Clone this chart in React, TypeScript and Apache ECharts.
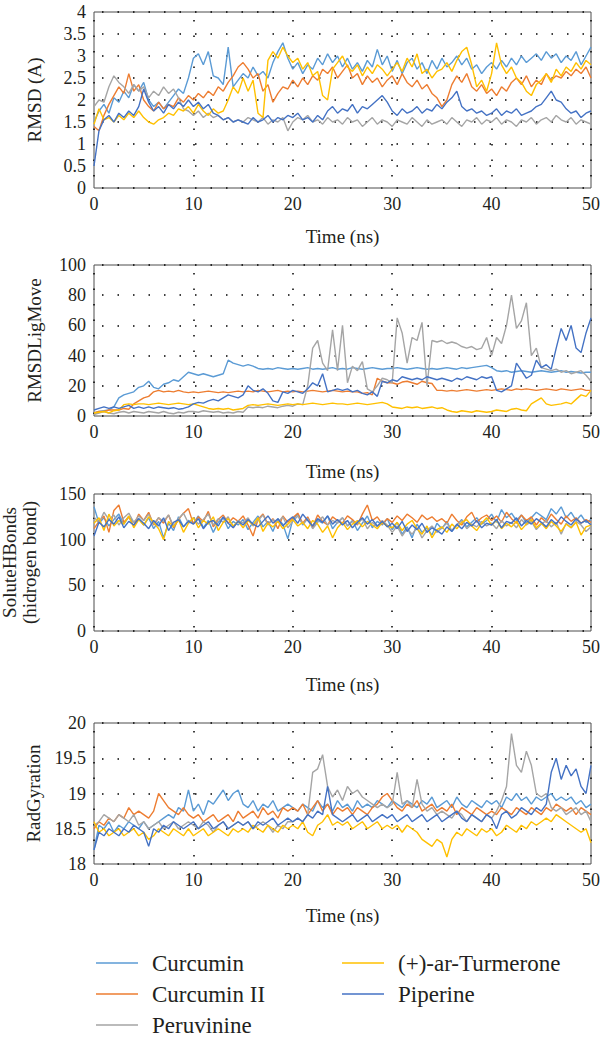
import React, { useEffect, useRef } from "react";
import * as echarts from "echarts";

const TIME = [
  0, 0.5, 1, 1.5, 2, 2.5, 3, 3.5, 4, 4.5,
  5, 5.5, 6, 6.5, 7, 7.5, 8, 8.5, 9, 9.5,
  10, 10.5, 11, 11.5, 12, 12.5, 13, 13.5, 14, 14.5,
  15, 15.5, 16, 16.5, 17, 17.5, 18, 18.5, 19, 19.5,
  20, 20.5, 21, 21.5, 22, 22.5, 23, 23.5, 24, 24.5,
  25, 25.5, 26, 26.5, 27, 27.5, 28, 28.5, 29, 29.5,
  30, 30.5, 31, 31.5, 32, 32.5, 33, 33.5, 34, 34.5,
  35, 35.5, 36, 36.5, 37, 37.5, 38, 38.5, 39, 39.5,
  40, 40.5, 41, 41.5, 42, 42.5, 43, 43.5, 44, 44.5,
  45, 45.5, 46, 46.5, 47, 47.5, 48, 48.5, 49, 49.5,
  50,
];

const SERIES_NAMES = ["Curcumin", "Curcumin II", "Peruvinine", "(+)-ar-Turmerone", "Piperine"];
const COLORS = ["#5b9bd5", "#ed7d31", "#a5a5a5", "#ffc000", "#4472c4"];

// Panel 1: RMSD (A)
const RMSD_CURCUMIN = [
  1.5, 1.75, 1.9, 1.7, 2.05, 1.95, 2.2, 2.05, 2.35, 2.2,
  2.4, 2.0, 1.85, 1.95, 1.8, 1.95, 2.1, 2.25, 2.15, 2.5,
  2.95, 3.05, 2.8, 3.1, 2.55, 2.5, 2.35, 3.2, 2.3, 2.45,
  2.6, 2.5, 2.75, 2.55, 2.65, 2.5, 2.85, 3.1, 3.3, 2.95,
  2.7, 2.85, 2.6, 2.8, 2.7, 2.95, 2.8, 3.05, 2.85, 3.0,
  2.75, 2.95, 2.7, 2.85, 2.65, 2.9, 2.75, 3.15, 2.8, 3.0,
  2.65, 2.9, 2.6, 2.85, 2.95, 2.7, 2.85, 2.6, 2.9, 2.7,
  2.95, 2.75, 2.85, 3.0, 2.8, 2.95, 2.7, 2.8, 2.6, 2.75,
  2.85, 2.7, 2.9, 2.75, 2.95, 2.8, 3.0, 2.85, 2.95, 3.05,
  2.9, 3.1, 2.95, 3.05, 2.85, 3.0, 2.9, 3.1, 2.8, 3.0,
  3.2,
];
const RMSD_CURCUMIN2 = [
  1.4, 1.3, 1.65, 1.9, 2.1, 2.3, 2.15, 2.6, 2.2, 2.35,
  2.0, 1.85, 1.75, 1.95, 1.8, 1.9, 1.85, 2.05, 1.95, 2.1,
  2.0, 2.15, 2.05, 2.2, 2.1, 2.3, 2.2, 2.4, 2.55, 2.75,
  2.85, 2.7, 2.5, 2.6, 2.2, 2.35, 1.95, 2.15, 2.3, 2.25,
  2.45, 2.3, 2.5, 2.35, 2.55, 2.45, 2.7, 2.6, 2.75, 2.5,
  2.65, 2.8, 2.5, 2.6, 2.35, 2.55, 2.4, 2.5, 2.3, 2.45,
  2.55, 2.35, 2.6, 2.4, 2.3, 2.45, 2.25, 2.35, 2.15, 2.05,
  1.85, 2.0, 2.35, 2.55, 2.4, 2.6, 2.3, 2.2, 2.35, 2.15,
  2.25, 2.1, 2.3, 2.2, 2.4, 2.5, 2.35, 2.55, 2.3, 2.45,
  2.35, 2.6, 2.45, 2.55, 2.5, 2.65, 2.55, 2.7, 2.6, 2.75,
  2.5,
];
const RMSD_PERUVININE = [
  1.85, 2.0, 1.95, 2.3, 2.55, 2.4, 2.3, 2.15, 2.35, 2.2,
  2.3, 2.05, 2.2, 2.1, 2.3, 2.15, 2.25, 2.05, 1.8, 1.75,
  1.65, 1.75, 1.6, 1.7, 1.6, 1.65, 1.55, 1.6, 1.5, 1.55,
  1.5, 1.6, 1.55, 1.5, 1.6, 1.45, 1.55, 1.5, 1.6, 1.3,
  1.5, 1.6, 1.55, 1.65, 1.5, 1.55, 1.45, 1.6, 1.5, 1.55,
  1.45, 1.6, 1.5, 1.55, 1.4, 1.5, 1.6, 1.45, 1.55, 1.5,
  1.4, 1.55, 1.5, 1.45, 1.6, 1.5, 1.4, 1.55, 1.45, 1.5,
  1.55, 1.45, 1.6, 1.5, 1.4, 1.55, 1.5, 1.6, 1.45, 1.55,
  1.5, 1.6, 1.45, 1.55, 1.5, 1.4, 1.55, 1.5, 1.6, 1.45,
  1.55, 1.6, 1.5, 1.65, 1.55, 1.5, 1.6, 1.45, 1.55, 1.5,
  1.45,
];
const RMSD_TURMERONE = [
  1.45, 1.8, 1.55, 1.6, 1.5, 1.65, 1.55, 1.7, 1.6, 1.75,
  1.6, 1.5, 1.45, 1.55, 1.6, 1.7, 1.65, 1.8, 1.75, 1.85,
  1.7, 1.9, 1.75, 1.65, 1.8, 1.7, 1.75, 2.0, 2.3, 2.15,
  2.5, 2.2, 2.45, 1.7, 1.6, 2.9, 3.1, 2.95, 3.2, 3.0,
  2.85, 2.95, 2.7, 2.85, 2.55, 2.65, 2.1, 2.0, 2.7, 2.85,
  3.0, 2.75, 2.65, 2.8, 2.55, 2.75, 2.6, 2.8, 2.7, 2.55,
  2.7, 2.85, 2.65, 2.95, 2.75, 3.05, 2.6, 2.7, 2.5, 2.65,
  2.7, 2.85, 2.65, 2.9, 3.1, 3.2, 2.8, 2.3, 2.45, 2.2,
  2.6, 3.3, 2.8, 2.6, 2.75, 2.5, 2.4, 2.2, 2.1, 2.35,
  2.45, 2.6, 2.4, 2.7, 2.55, 2.75, 2.65, 2.85, 2.7, 2.9,
  2.8,
];
const RMSD_PIPERINE = [
  0.5, 1.3, 1.55, 1.65, 1.5, 1.7, 1.6, 1.75, 1.65, 1.85,
  2.25, 1.95, 1.75, 1.85, 1.7, 1.9, 1.8, 1.95, 1.85, 2.0,
  1.85, 1.95, 1.8, 1.9, 1.7, 1.65, 1.55, 1.6, 1.5, 1.55,
  1.5, 1.45, 1.6, 1.5, 1.55, 1.65, 1.5, 1.6, 1.55, 1.65,
  1.6, 1.7, 1.55, 1.6, 1.5, 1.65, 1.55, 1.75, 1.85, 1.7,
  1.8, 1.75, 1.9, 1.7, 1.85, 1.8, 1.9, 2.0, 2.1, 1.95,
  1.75, 1.65, 1.8, 1.7, 1.75, 1.85, 1.7, 1.8, 1.75, 1.9,
  1.8, 1.95, 2.05, 2.2, 1.85, 1.75, 1.8, 1.7, 1.75, 1.65,
  1.7, 1.8, 1.65, 1.75, 1.7, 1.8, 1.65, 1.7, 1.75, 1.85,
  1.9, 2.05, 2.2, 2.0, 1.95, 1.8, 1.7, 1.75, 1.6, 1.7,
  1.75,
];

// Panel 2: RMSDLigMove
const LIG_CURCUMIN = [
  2, 3, 3.5, 4, 6, 12, 14, 15, 16, 19,
  20, 23, 19, 18, 21, 22, 24, 23, 26, 29,
  28, 27, 28, 27, 26, 27, 28, 37, 35, 34,
  33, 34, 33, 31.5, 31, 31.5, 31, 32, 31.5, 31,
  31.5, 31, 31.5, 32, 31, 31.5, 31, 31.5, 32, 31,
  31.5, 31, 32, 31.5, 31, 31.5, 32, 31.5, 31, 31.5,
  31.5, 32, 31.5, 31, 31.5, 32, 31.5, 31, 31.5, 31,
  31.5, 32, 31.5, 31, 32, 31.5, 32, 32.5, 33, 33.5,
  32, 30, 29.5, 30, 29, 29.5, 30, 29.5, 29, 29.5,
  30, 29.5, 29, 29.5, 30, 29, 29.5, 29, 28.5, 29,
  29,
];
const LIG_CURCUMIN2 = [
  2, 3, 3, 4, 4, 4, 5, 4.5, 8, 10,
  12, 13, 16, 17, 16, 16.5, 16, 17, 16, 15.5,
  16, 15.5, 16, 16.5, 16, 15.5, 16, 15.5, 16, 16.5,
  16, 16.5, 16, 17, 16.5, 16, 16.5, 17, 16, 16.5,
  16, 16.5, 16, 16.5, 17, 16.5, 16, 16.5, 17, 16.5,
  16, 16.5, 16, 16, 15, 15.5, 14, 25, 23, 22,
  22, 21, 22.5, 23, 22, 21, 23, 22, 21.5, 17,
  17, 16.5, 17, 16.5, 17, 17.5, 17, 16.5, 17, 17.5,
  17, 17.5, 18, 17.5, 17, 18, 17.5, 18, 17.5, 17,
  17.5, 18, 17.5, 17, 18, 17.5, 17, 17.5, 18, 17,
  17,
];
const LIG_PERUVININE = [
  1, 2, 3, 2, 1.5, 2.5, 3, 2, 3, 2.5,
  2, 3, 2.5, 2, 3, 2, 1.5, 2.5, 2, 3,
  3, 2.5, 3.5, 3, 2.5, 3, 2, 2.5, 2, 3,
  2.5, 6, 5.5, 6, 5.5, 6.5, 6, 5.5, 6.5, 7,
  6.5, 8, 7.5, 20, 45, 50, 35, 30, 57, 30,
  60, 22, 33, 30, 36, 18, 16, 20, 25, 24,
  22, 65, 55, 35, 52, 50, 62, 20, 50, 49,
  50, 48, 49, 48, 46, 45, 46, 44, 45, 52,
  40, 52, 48, 60, 80, 58, 63, 75, 40, 45,
  32, 31, 30, 31, 29, 30, 28, 29, 30, 27,
  23,
];
const LIG_TURMERONE = [
  2, 2.5, 3, 2, 3.5, 4, 7.5, 8, 7.5, 8,
  8, 7.5, 8, 8.5, 8, 7.5, 8, 8.5, 8, 7.5,
  8, 7, 6, 5, 4.5, 5, 4.5, 5, 4, 4.5,
  5, 7, 7.5, 7, 7.5, 8, 7.5, 7, 7.5, 8,
  7.5, 8, 7.5, 8, 8.5, 8, 7.5, 8, 8.5, 8,
  8, 7.5, 8, 8.5, 8, 7.5, 8, 8.5, 9, 8,
  6, 5.5, 5, 6, 5.5, 6, 5, 5.5, 6, 5,
  5.5, 4, 3, 2.5, 3.5, 3, 2.5, 3.5, 3, 2.5,
  3, 4, 3.5, 3, 4.5, 5, 4, 3.5, 8, 10,
  12, 8, 7, 7.5, 8, 9, 8, 11, 14, 13,
  17,
];
const LIG_PIPERINE = [
  4, 5, 6, 5, 6, 5, 6, 7, 5, 6,
  5, 6, 5, 6, 5.5, 5, 5.5, 4.5, 5, 6,
  8, 9, 8.5, 10, 11, 10, 12, 14, 13, 12,
  14, 20, 17, 16, 18, 15, 10, 9, 16, 15,
  17, 16, 15, 18, 22, 20, 28, 16, 17, 18,
  17, 18, 16, 17, 15, 14, 16, 13, 23, 22,
  24, 23, 26, 25, 24, 25, 24, 26, 25, 24,
  25, 24, 23, 25, 24, 26, 25, 24, 26, 25,
  26, 17, 16, 18, 20, 35, 30, 25, 27, 37,
  32, 34, 31, 45, 58, 50, 60, 45, 42, 55,
  65,
];

// Panel 3: SoluteHBonds
const HB_CURCUMIN = [
  136, 118, 124, 115, 122, 128, 117, 125, 119, 123,
  116, 124, 112, 120, 102, 118, 110, 125, 114, 121,
  118, 126, 113, 121, 108, 119, 124, 112, 120, 116,
  122, 111, 119, 126, 114, 120, 109, 123, 117, 101,
  122, 128, 116, 124, 113, 121, 118, 126, 112, 119,
  124, 115, 121, 110, 118, 126, 113, 120, 116, 123,
  111, 119, 106, 114, 102, 117, 108, 113, 105, 118,
  112, 120, 109, 116, 122, 114, 119, 124, 117, 121,
  128, 119, 133, 124, 129, 121, 127, 118, 124, 130,
  126, 122, 134, 128, 136, 124, 130, 121, 127, 119,
  122,
];
const HB_CURCUMIN2 = [
  112, 120, 126, 108, 132, 138, 119, 125, 115, 128,
  121, 130, 116, 124, 118, 127, 113, 122, 129, 134,
  117, 125, 120, 131, 114, 122, 127, 118, 124, 120,
  126, 116, 104, 122, 128, 117, 123, 112, 126, 119,
  124, 129, 118, 125, 114, 127, 120, 116, 125, 121,
  118, 126, 122, 116, 128, 138, 121, 125, 117, 123,
  119, 126, 121, 128, 124, 119, 127, 122, 125, 120,
  123, 118, 128, 121, 116, 125, 130, 119, 124, 127,
  121, 126, 119, 130, 123, 118, 127, 121, 125, 116,
  124, 119, 128, 122, 117, 126, 120, 124, 118, 122,
  119,
];
const HB_PERUVININE = [
  125, 118, 130, 122, 127, 116, 124, 129, 119, 126,
  121, 128, 117, 124, 120, 127, 115, 123, 129, 118,
  124, 117, 122, 128, 116, 123, 119, 125, 113, 121,
  118, 124, 115, 121, 127, 116, 122, 119, 125, 113,
  120, 126, 117, 123, 112, 119, 125, 116, 121, 118,
  124, 115, 120, 117, 123, 112, 119, 114, 121, 116,
  108, 115, 104, 112, 106, 113, 102, 110, 115, 108,
  113, 118, 110, 116, 121, 112, 117, 114, 120, 115,
  118, 112, 121, 115, 119, 113, 122, 116, 120, 111,
  117, 121, 114, 119, 106, 118, 113, 120, 116, 109,
  114,
];
const HB_TURMERONE = [
  118, 124, 110, 128, 115, 121, 117, 126, 113, 122,
  116, 125, 119, 112, 100, 120, 114, 122, 108, 118,
  124, 113, 121, 117, 125, 110, 119, 123, 115, 120,
  113, 121, 116, 124, 109, 118, 114, 120, 112, 117,
  122, 115, 119, 112, 121, 117, 108, 115, 102, 113,
  119, 111, 117, 121, 114, 120, 116, 112, 119, 115,
  113, 119, 110, 117, 121, 112, 106, 115, 102, 111,
  114, 108, 117, 112, 119, 122, 115, 110, 118, 124,
  116, 121, 112, 118, 114, 120, 111, 117, 122, 113,
  118, 112, 120, 115, 109, 117, 113, 119, 105, 114,
  116,
];
const HB_PIPERINE = [
  104, 119, 114, 122, 117, 125, 113, 120, 116, 123,
  118, 112, 121, 115, 124, 110, 119, 122, 114, 120,
  117, 123, 112, 119, 121, 115, 125, 118, 113, 120,
  116, 122, 117, 114, 120, 126, 118, 123, 115, 121,
  125, 118, 128, 121, 115, 123, 119, 126, 117, 122,
  116, 121, 113, 119, 124, 117, 122, 115, 120, 114,
  118, 112, 120, 109, 116, 111, 118, 108, 113, 110,
  106, 114, 109, 117, 112, 119, 115, 121, 113, 118,
  116, 122, 113, 120, 118, 124, 115, 121, 117, 123,
  119, 114, 122, 117, 125, 120, 116, 123, 118, 121,
  116,
];

// Panel 4: RadGyration
const RG_CURCUMIN = [
  18.2, 18.55, 18.5, 18.6, 18.45, 18.55, 18.5, 18.6, 18.55, 18.5,
  18.6, 18.5, 18.55, 18.6, 18.65, 18.7, 18.65, 18.8, 18.75, 19.05,
  18.75, 18.85, 18.7, 18.9, 18.85, 18.95, 19.05, 18.9, 19.0, 19.05,
  18.85, 18.8, 18.9, 18.75, 18.85, 18.8, 18.9, 18.75, 18.8, 18.85,
  18.8, 18.75, 18.85, 18.8, 18.75, 18.9, 18.8, 18.85, 18.75, 18.9,
  18.8, 18.85, 18.75, 18.9, 18.8, 18.85, 18.8, 18.9, 18.85, 18.8,
  18.9, 18.85, 18.8, 18.9, 18.85, 18.8, 18.9, 18.85, 18.95, 18.8,
  18.85, 18.9, 18.8, 18.95, 18.85, 18.8, 18.9, 18.85, 18.8, 18.9,
  18.85, 18.9, 18.8, 18.95, 18.9, 19.0, 18.9, 18.95, 18.85, 18.95,
  18.9, 18.95, 19.0, 18.9, 18.95, 18.9, 18.95, 18.85, 18.9, 18.8,
  18.85,
];
const RG_CURCUMIN2 = [
  18.5, 18.6, 18.55, 18.65, 18.6, 18.7, 18.65, 18.8, 18.7, 18.75,
  18.7, 18.65, 18.75, 19.0, 18.9, 18.8, 18.75, 18.7, 18.8, 18.7,
  18.65, 18.7, 18.6, 18.65, 18.7, 18.6, 18.65, 18.7, 18.6, 18.75,
  18.65, 18.7, 18.75, 18.65, 18.8, 18.7, 18.75, 18.65, 18.8, 18.75,
  18.8, 18.75, 18.85, 18.7, 18.8, 18.9, 18.75, 18.85, 18.7, 18.8,
  18.75, 18.8, 18.7, 18.8, 18.75, 18.7, 18.8, 18.85, 18.95, 19.0,
  18.9, 18.8, 18.75, 18.85, 18.8, 18.9, 18.75, 18.8, 18.85, 18.75,
  18.8, 18.75, 18.85, 18.7, 18.8, 18.75, 18.7, 18.8, 18.75, 18.7,
  18.75, 18.7, 18.8, 18.75, 18.7, 18.8, 18.75, 18.7, 18.8, 18.75,
  18.7, 18.8, 18.75, 18.85, 18.8, 18.75, 18.8, 18.7, 18.8, 18.75,
  18.7,
];
const RG_PERUVININE = [
  18.55, 18.6, 18.7, 18.65, 18.6, 18.7, 18.65, 18.6, 18.7, 18.55,
  18.6, 18.5, 18.55, 18.6, 18.5, 18.55, 18.6, 18.5, 18.55, 18.6,
  18.55, 18.5, 18.6, 18.55, 18.45, 18.55, 18.6, 18.5, 18.55, 18.6,
  18.55, 18.6, 18.5, 18.55, 18.6, 18.55, 18.45, 18.55, 18.5, 18.6,
  18.6, 18.65, 18.6, 18.7, 19.3, 19.35, 19.55, 19.1, 18.95, 19.05,
  18.9, 19.1, 19.0, 19.05, 18.95, 18.9, 18.85, 18.8, 18.85, 18.8,
  18.85, 19.3, 18.85, 18.9, 18.8, 19.2, 18.85, 18.75, 18.8, 18.7,
  18.75, 18.7, 18.65, 18.75, 18.7, 18.6, 18.7, 18.65, 18.6, 18.7,
  18.65, 18.75, 18.9, 19.1, 19.85, 19.4, 19.3, 19.6, 19.4, 19.0,
  18.95, 19.0, 18.8, 18.75, 18.8, 18.7, 18.75, 18.8, 18.7, 18.75,
  18.6,
];
const RG_TURMERONE = [
  18.6, 18.45, 18.5, 18.4, 18.45, 18.5, 18.4, 18.45, 18.5, 18.4,
  18.45, 18.35, 18.4, 18.5, 18.45, 18.4, 18.5, 18.45, 18.4, 18.5,
  18.4, 18.45, 18.5, 18.4, 18.45, 18.5, 18.45, 18.4, 18.5, 18.45,
  18.5, 18.45, 18.55, 18.5, 18.45, 18.55, 18.5, 18.45, 18.55, 18.5,
  18.55, 18.5, 18.6, 18.45, 18.4, 18.55, 18.6, 18.7, 18.55, 18.6,
  18.55, 18.6, 18.5, 18.55, 18.6, 18.5, 18.55, 18.6, 18.5, 18.55,
  18.5, 18.55, 18.45, 18.55, 18.5, 18.45, 18.35, 18.3, 18.25, 18.35,
  18.3, 18.1, 18.35, 18.45, 18.4, 18.5, 18.45, 18.4, 18.5, 18.45,
  18.5, 18.4, 18.45, 18.55, 18.5, 18.45, 18.55, 18.5, 18.6, 18.55,
  18.6, 18.65, 18.6, 18.7, 18.65, 18.6, 18.55, 18.5, 18.45, 18.5,
  18.3,
];
const RG_PIPERINE = [
  18.2, 18.45, 18.4, 18.5, 18.45, 18.4, 18.5, 18.45, 18.55, 18.5,
  18.45, 18.25, 18.5, 18.45, 18.55, 18.5, 18.6, 18.55, 18.5, 18.55,
  18.6, 18.5, 18.55, 18.6, 18.5, 18.55, 18.6, 18.5, 18.55, 18.6,
  18.55, 18.6, 18.5, 18.6, 18.55, 18.6, 18.65, 18.55, 18.6, 18.65,
  18.6, 18.65, 18.6, 18.7, 18.65, 18.75, 18.7, 19.1, 18.7, 18.65,
  18.6, 18.65, 18.7, 18.6, 18.65, 18.7, 18.6, 18.65, 18.7, 18.65,
  18.7, 18.6, 18.65, 18.7, 18.6, 18.65, 18.7, 18.6, 18.65, 18.7,
  18.6, 18.65, 18.7, 18.75, 18.65, 18.6, 18.7, 18.65, 18.6, 18.7,
  18.65, 18.5, 18.7, 18.75, 18.65, 18.7, 18.8, 18.75, 18.7, 18.8,
  18.75, 18.85, 19.3, 19.5, 19.2, 19.4, 19.25, 19.35, 19.1, 19.0,
  19.4,
];

const X_NAME = "Time (ns)";

const PANELS = [
  { yName: "RMSD (A)", min: 0, max: 4, interval: 0.5, data: [RMSD_CURCUMIN, RMSD_CURCUMIN2, RMSD_PERUVININE, RMSD_TURMERONE, RMSD_PIPERINE] },
  { yName: "RMSDLigMove", min: 0, max: 100, interval: 20, data: [LIG_CURCUMIN, LIG_CURCUMIN2, LIG_PERUVININE, LIG_TURMERONE, LIG_PIPERINE] },
  { yName: "SoluteHBonds\n(hidrogen bond)", min: 0, max: 150, interval: 50, data: [HB_CURCUMIN, HB_CURCUMIN2, HB_PERUVININE, HB_TURMERONE, HB_PIPERINE] },
  { yName: "RadGyration", min: 18, max: 20, interval: 0.5, data: [RG_CURCUMIN, RG_CURCUMIN2, RG_PERUVININE, RG_TURMERONE, RG_PIPERINE] },
];

const GRID_POS = [
  { top: 12, height: 176, yGap: 50, xGap: 39 },
  { top: 265, height: 151, yGap: 50, xGap: 46 },
  { top: 494, height: 137, yGap: 55, xGap: 44 },
  { top: 723, height: 141, yGap: 50, xGap: 42 },
];

const LEGEND_POS = [
  { x: 96, y: 963 },
  { x: 96, y: 994 },
  { x: 96, y: 1025 },
  { x: 342, y: 963 },
  { x: 342, y: 994 },
];

const FONT = "Liberation Serif";
const TEXT_COLOR = "#231f20";

export default function App() {
  const ref = useRef<HTMLDivElement>(null);
  useEffect(() => {
    if (!ref.current) return;
    const chart = echarts.init(ref.current, undefined, { renderer: "svg" });
    const dotted = { color: "#000", width: 1.5, type: [1.5, 14] as any, dashOffset: -8 };
    const grid = GRID_POS.map((g) => ({
      left: 94,
      right: 9,
      top: g.top,
      height: g.height,
      show: true,
      borderColor: "#4d4d4d",
      borderWidth: 1,
      backgroundColor: "transparent",
      containLabel: false,
      outerBoundsMode: "none",
    }));
    const xAxis = PANELS.map((_, i) => ({
      type: "value",
      gridIndex: i,
      min: 0,
      max: 50,
      interval: 10,
      name: X_NAME,
      nameLocation: "middle",
      nameGap: GRID_POS[i].xGap,
      nameTextStyle: { fontFamily: FONT, fontSize: 19, color: TEXT_COLOR },
      axisLine: { show: false },
      axisTick: { show: false },
      axisLabel: { fontFamily: FONT, fontSize: 18, color: TEXT_COLOR, margin: 7 },
      splitLine: { show: true, lineStyle: dotted },
    }));
    const yAxis = PANELS.map((p, i) => ({
      type: "value",
      gridIndex: i,
      min: p.min,
      max: p.max,
      interval: p.interval,
      name: p.yName,
      nameLocation: "middle",
      nameGap: GRID_POS[i].yGap,
      nameRotate: 90,
      nameTextStyle: { fontFamily: FONT, fontSize: 19, color: TEXT_COLOR, lineHeight: 20 },
      axisLine: { show: false },
      axisTick: { show: false },
      axisLabel: { fontFamily: FONT, fontSize: 18, color: TEXT_COLOR, margin: 8 },
      splitLine: { show: true, lineStyle: dotted },
    }));
    const series: any[] = [];
    PANELS.forEach((p, i) => {
      p.data.forEach((vals, k) => {
        series.push({
          type: "line",
          name: SERIES_NAMES[k],
          xAxisIndex: i,
          yAxisIndex: i,
          showSymbol: false,
          symbol: "none",
          color: COLORS[k],
          lineStyle: { width: 1.4, color: COLORS[k] },
          data: vals.map((v, j) => [TIME[j], v]),
        });
      });
    });
    const graphic: any[] = [];
    SERIES_NAMES.forEach((name, k) => {
      const pos = LEGEND_POS[k];
      graphic.push({
        type: "line",
        shape: { x1: pos.x, y1: pos.y, x2: pos.x + 42, y2: pos.y },
        style: { stroke: COLORS[k], lineWidth: 1.6 },
      });
      graphic.push({
        type: "text",
        x: pos.x + 56,
        y: pos.y,
        style: {
          text: name,
          fontFamily: FONT,
          fontSize: 23,
          fill: TEXT_COLOR,
          textVerticalAlign: "middle",
          verticalAlign: "middle",
        },
      });
    });
    chart.setOption({
      animation: false,
      backgroundColor: "#fff",
      color: COLORS,
      grid,
      xAxis,
      yAxis,
      series,
      graphic,
    });
    return () => chart.dispose();
  }, []);
  return (
    <div
      ref={ref}
      style={{ position: "absolute", left: 0, top: 0, width: 600, height: 1040, background: "#fff" }}
    />
  );
}
